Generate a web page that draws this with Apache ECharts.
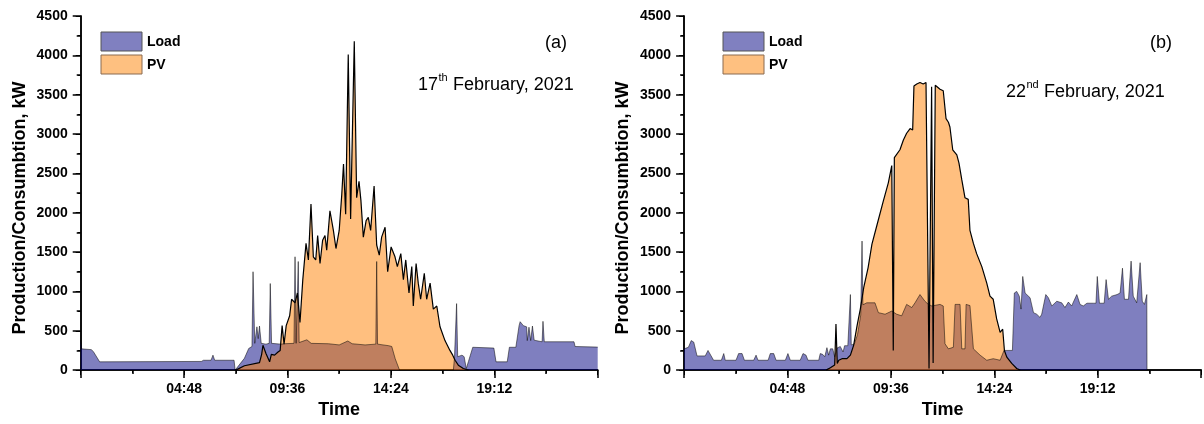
<!DOCTYPE html>
<html><head><meta charset="utf-8">
<script src="https://cdn.jsdelivr.net/npm/echarts@6/dist/echarts.min.js"></script>
<style>html,body{margin:0;padding:0;background:#fff}#c{width:1204px;height:424px}</style>
</head><body><div id="c"></div>
<script>
// Time in hours of day, value in kW
const xTickLabels = ['04:48', '09:36', '14:24', '19:12'];
const yTicks = [0, 500, 1000, 1500, 2000, 2500, 3000, 3500, 4000, 4500];
const seriesNames = ['Load', 'PV'];
const panelTags = ['(a)', '(b)'];

// Panel (a): 17th February 2021
const loadA = [[0,380],[0.04,270],[0.5,260],[0.6,230],[0.88,105],[5.6,110],[5.7,125],[6.05,125],[6.14,190],[6.22,125],[7.12,125],[7.17,0],[7.2,0],[7.6,150],[7.8,275],[7.95,300],[8.0,1250],[8.08,340],[8.18,550],[8.24,400],[8.3,560],[8.38,340],[8.6,330],[8.75,340],[8.8,1100],[8.86,340],[9.3,330],[9.45,335],[9.9,340],[9.95,1440],[10.0,340],[10.06,345],[10.1,1380],[10.14,350],[10.5,385],[10.7,340],[11.5,335],[12.0,320],[12.4,370],[12.6,335],[13.2,320],[13.7,330],[13.74,1380],[13.78,330],[14.3,310],[14.44,300],[14.6,145],[14.8,0],[17.3,0],[17.35,150],[17.42,150],[17.45,845],[17.5,170],[17.7,190],[17.8,170],[17.9,20],[18.0,110],[18.2,290],[19.18,280],[19.28,105],[19.8,105],[19.9,290],[20.2,290],[20.35,565],[20.4,615],[20.55,565],[20.7,550],[20.73,375],[20.81,545],[20.89,375],[20.97,560],[21.05,380],[21.12,360],[21.42,360],[21.46,620],[21.52,360],[22.9,360],[22.95,300],[24,292]];
const pvA = [[7.2,0],[7.6,55],[8.3,95],[8.4,200],[8.46,315],[8.6,210],[8.77,105],[8.85,200],[9.0,190],[9.16,230],[9.26,250],[9.35,565],[9.44,330],[9.54,565],[9.7,690],[9.79,900],[9.95,855],[10.06,980],[10.18,605],[10.31,1150],[10.46,1610],[10.57,1400],[10.69,2110],[10.8,1440],[10.91,1400],[11.0,1710],[11.11,1355],[11.23,1650],[11.34,1710],[11.42,1525],[11.57,2025],[11.73,1775],[11.85,1545],[12.0,1775],[12.12,2235],[12.2,2620],[12.3,1980],[12.42,4010],[12.53,1920],[12.7,4180],[12.81,2190],[12.92,2400],[13.01,2150],[13.12,1690],[13.25,1900],[13.35,1940],[13.46,1775],[13.62,2340],[13.74,1590],[13.86,1460],[13.97,1690],[14.13,1815],[14.25,1250],[14.41,1565],[14.59,1440],[14.7,1315],[14.86,1480],[14.98,1150],[15.09,1400],[15.24,980],[15.37,1315],[15.44,815],[15.57,1355],[15.67,1105],[15.78,900],[15.95,1230],[16.06,900],[16.22,1105],[16.37,775],[16.53,815],[16.68,550],[16.91,375],[17.14,250],[17.27,190],[17.38,125],[17.53,63],[17.76,20],[18.0,0]];

// Panel (b): 22nd February 2021
const loadB = [[0,270],[0.2,290],[0.33,375],[0.45,355],[0.6,180],[0.98,180],[1.11,250],[1.2,250],[1.37,125],[1.73,125],[1.84,210],[1.91,125],[2.41,125],[2.53,210],[2.69,210],[2.8,125],[3.23,125],[3.34,190],[3.43,125],[3.9,125],[4.0,210],[4.16,210],[4.27,125],[4.7,125],[4.82,210],[4.93,125],[5.39,125],[5.52,210],[5.66,190],[5.75,125],[6.25,125],[6.32,210],[6.43,200],[6.53,170],[6.63,285],[6.71,190],[6.79,270],[6.9,270],[6.99,170],[7.1,280],[7.25,300],[7.38,230],[7.45,310],[7.6,310],[7.68,320],[7.72,960],[7.76,320],[7.9,330],[8.05,450],[8.2,700],[8.26,1640],[8.3,830],[8.48,855],[8.86,855],[9.02,730],[9.33,710],[9.64,750],[9.87,710],[10.1,690],[10.33,835],[10.57,795],[10.72,855],[10.95,960],[11.18,875],[11.34,835],[11.5,815],[11.88,835],[12.03,815],[12.11,335],[12.27,270],[12.5,290],[12.58,835],[12.81,835],[12.89,270],[13.04,270],[13.09,835],[13.27,820],[13.43,270],[13.74,190],[14.05,125],[14.35,145],[14.67,125],[14.85,250],[15.24,250],[15.33,980],[15.44,1000],[15.56,940],[15.64,775],[15.72,1190],[15.83,980],[16.06,920],[16.22,730],[16.37,710],[16.52,670],[16.6,710],[16.79,960],[16.91,920],[17.07,815],[17.3,875],[17.53,855],[17.68,795],[17.84,865],[17.99,815],[18.23,960],[18.38,835],[18.53,815],[18.7,850],[19.0,850],[19.12,850],[19.18,1190],[19.28,850],[19.5,850],[19.59,1150],[19.7,900],[19.85,940],[20.1,960],[20.24,980],[20.35,1295],[20.44,900],[20.63,900],[20.75,1385],[20.85,940],[21.01,855],[21.17,1365],[21.27,875],[21.37,835],[21.48,960],[21.49,0]];
const pvB = [[6.59,0],[6.79,30],[6.99,65],[7.05,585],[7.11,85],[7.18,125],[7.33,145],[7.56,145],[7.72,190],[7.87,315],[8.03,565],[8.18,775],[8.34,1050],[8.54,1300],[8.72,1600],[8.96,1850],[9.25,2150],[9.48,2380],[9.64,2600],[9.68,2610],[9.71,250],[9.76,2700],[9.84,2715],[10.02,2800],[10.18,2925],[10.33,3010],[10.49,3070],[10.61,3050],[10.67,3610],[10.8,3635],[10.95,3655],[11.1,3635],[11.23,3655],[11.3,3650],[11.37,20],[11.49,3600],[11.56,90],[11.66,3620],[11.73,3600],[11.88,3570],[12.03,3550],[12.16,3195],[12.27,3150],[12.34,3090],[12.47,2800],[12.66,2735],[12.76,2630],[12.89,2420],[13.04,2190],[13.19,2170],[13.27,1775],[13.43,1610],[13.58,1480],[13.82,1315],[14.05,1105],[14.2,940],[14.35,900],[14.51,650],[14.67,480],[14.79,520],[14.87,250],[14.98,165],[15.21,85],[15.44,20],[15.6,0]];

const FONT = 'Arial, "Liberation Sans", Helvetica, sans-serif';
const grids = [{left: 80.7, top: 16, width: 517, height: 359}, {left: 684.1, top: 16, width: 517, height: 359}];
function fmt(v) {
  const m = Math.round(v * 60);
  const s = String(Math.floor(m / 60)).padStart(2, '0') + ':' + String(m % 60).padStart(2, '0');
  return xTickLabels.indexOf(s) >= 0 ? s : '';
}
const axLine = {lineStyle: {color: '#000', width: 1.5}};
const xAxes = [], yAxes = [];
[0, 1].forEach(i => {
  xAxes.push({type: 'value', gridIndex: i, min: 0, max: 24, interval: 4.8, position: 'bottom',
    axisLine: axLine, axisTick: {length: 8, lineStyle: {color: '#000', width: 1.5}},
    minorTick: {show: true, splitNumber: 2, length: 4, lineStyle: {color: '#000', width: 1.5}},
    splitLine: {show: false}, minorSplitLine: {show: false},
    axisLabel: {formatter: fmt, showMinLabel: false, showMaxLabel: false, margin: 12, fontSize: 14, fontWeight: 'bold', color: '#000', fontFamily: FONT},
    name: 'Time', nameLocation: 'middle', nameGap: 28,
    nameTextStyle: {fontSize: 18, fontWeight: 'bold', color: '#000', fontFamily: FONT}});
  xAxes.push({type: 'value', gridIndex: i, min: 0, max: 24, interval: 4.8, position: 'top',
    axisLine: axLine, axisTick: {inside: true, length: 5, lineStyle: {color: '#000', width: 1}},
    minorTick: {show: true, splitNumber: 2, length: 3, lineStyle: {color: '#000', width: 1}},
    splitLine: {show: false}, axisLabel: {show: false}});
  yAxes.push({type: 'value', gridIndex: i, min: yTicks[0], max: yTicks[yTicks.length - 1], interval: 500, position: 'left',
    axisLine: axLine, axisTick: {length: 8, lineStyle: {color: '#000', width: 1.5}},
    minorTick: {show: true, splitNumber: 2, length: 4, lineStyle: {color: '#000', width: 1.5}},
    splitLine: {show: false},
    axisLabel: {formatter: v => String(v), margin: 13, fontSize: 14, fontWeight: 'bold', color: '#000', fontFamily: FONT}});
  yAxes.push({type: 'value', gridIndex: i, min: yTicks[0], max: yTicks[yTicks.length - 1], interval: 500, position: 'right',
    axisLine: axLine, axisTick: {inside: true, length: 5, lineStyle: {color: '#000', width: 1}},
    minorTick: {show: true, splitNumber: 2, length: 3, lineStyle: {color: '#000', width: 1}},
    splitLine: {show: false}, axisLabel: {show: false}});
});

function loadSeries(data, i) {
  return {name: seriesNames[0], type: 'line', xAxisIndex: i * 2, yAxisIndex: i * 2, data: data,
    symbol: 'none', animation: false, lineStyle: {color: 'rgba(0,0,0,0.5)', width: 1},
    areaStyle: {color: 'rgba(0,0,128,0.5)', opacity: 1}, itemStyle: {color: 'rgba(0,0,128,0.5)'}};
}
function pvSeries(data, i) {
  return {name: seriesNames[1], type: 'line', xAxisIndex: i * 2, yAxisIndex: i * 2, data: data,
    symbol: 'none', animation: false, lineStyle: {color: '#000', width: 1.2},
    areaStyle: {color: 'rgba(255,128,0,0.5)', opacity: 1}, itemStyle: {color: 'rgba(255,128,0,0.5)'}};
}

function legendGraphics(x0) {
  return [
    {type: 'rect', shape: {x: x0, y: 32, width: 41, height: 19}, style: {fill: '#8080C0', stroke: '#555', lineWidth: 1}},
    {type: 'rect', shape: {x: x0, y: 55, width: 41, height: 19}, style: {fill: '#FEC080', stroke: '#8a6a50', lineWidth: 1}},
    {type: 'text', x: x0 + 46, y: 42, style: {text: seriesNames[0], font: 'bold 14px ' + FONT, fill: '#000', verticalAlign: 'middle'}},
    {type: 'text', x: x0 + 46, y: 65, style: {text: seriesNames[1], font: 'bold 14px ' + FONT, fill: '#000', verticalAlign: 'middle'}}
  ];
}
function dateText(x, y, num, sup, supW) {
  return [
    {type: 'text', x: x, y: y, style: {text: num, font: '18px ' + FONT, fill: '#000', verticalAlign: 'middle'}},
    {type: 'text', x: x + 20.5, y: y - 7, style: {text: sup, font: '11px ' + FONT, fill: '#000', verticalAlign: 'middle'}},
    {type: 'text', x: x + 20.5 + supW, y: y, style: {text: ' February, 2021', font: '18px ' + FONT, fill: '#000', verticalAlign: 'middle'}}
  ];
}
const yLabel = 'Production/Consumbtion, kW';
const graphic = [].concat(
  legendGraphics(101), legendGraphics(723),
  [
    {type: 'text', x: 20, y: 208, rotation: Math.PI / 2, style: {text: yLabel, font: 'bold 18px ' + FONT, fill: '#000', align: 'center', verticalAlign: 'middle'}},
    {type: 'text', x: 623, y: 208, rotation: Math.PI / 2, style: {text: yLabel, font: 'bold 18px ' + FONT, fill: '#000', align: 'center', verticalAlign: 'middle'}},
    {type: 'text', x: 545, y: 43, style: {text: panelTags[0], font: '18px ' + FONT, fill: '#000', verticalAlign: 'middle'}},
    {type: 'text', x: 1150, y: 43, style: {text: panelTags[1], font: '18px ' + FONT, fill: '#000', verticalAlign: 'middle'}}
  ],
  dateText(418, 85, '17', 'th', 9.5),
  dateText(1006, 92, '22', 'nd', 12.5));

const chart = echarts.init(document.getElementById('c'), null, {renderer: 'canvas'});
chart.setOption({
  animation: false,
  backgroundColor: '#fff',
  grid: grids,
  xAxis: xAxes,
  yAxis: yAxes,
  series: [loadSeries(loadA, 0), pvSeries(pvA, 0), loadSeries(loadB, 1), pvSeries(pvB, 1)],
  graphic: graphic
});
</script></body></html>
